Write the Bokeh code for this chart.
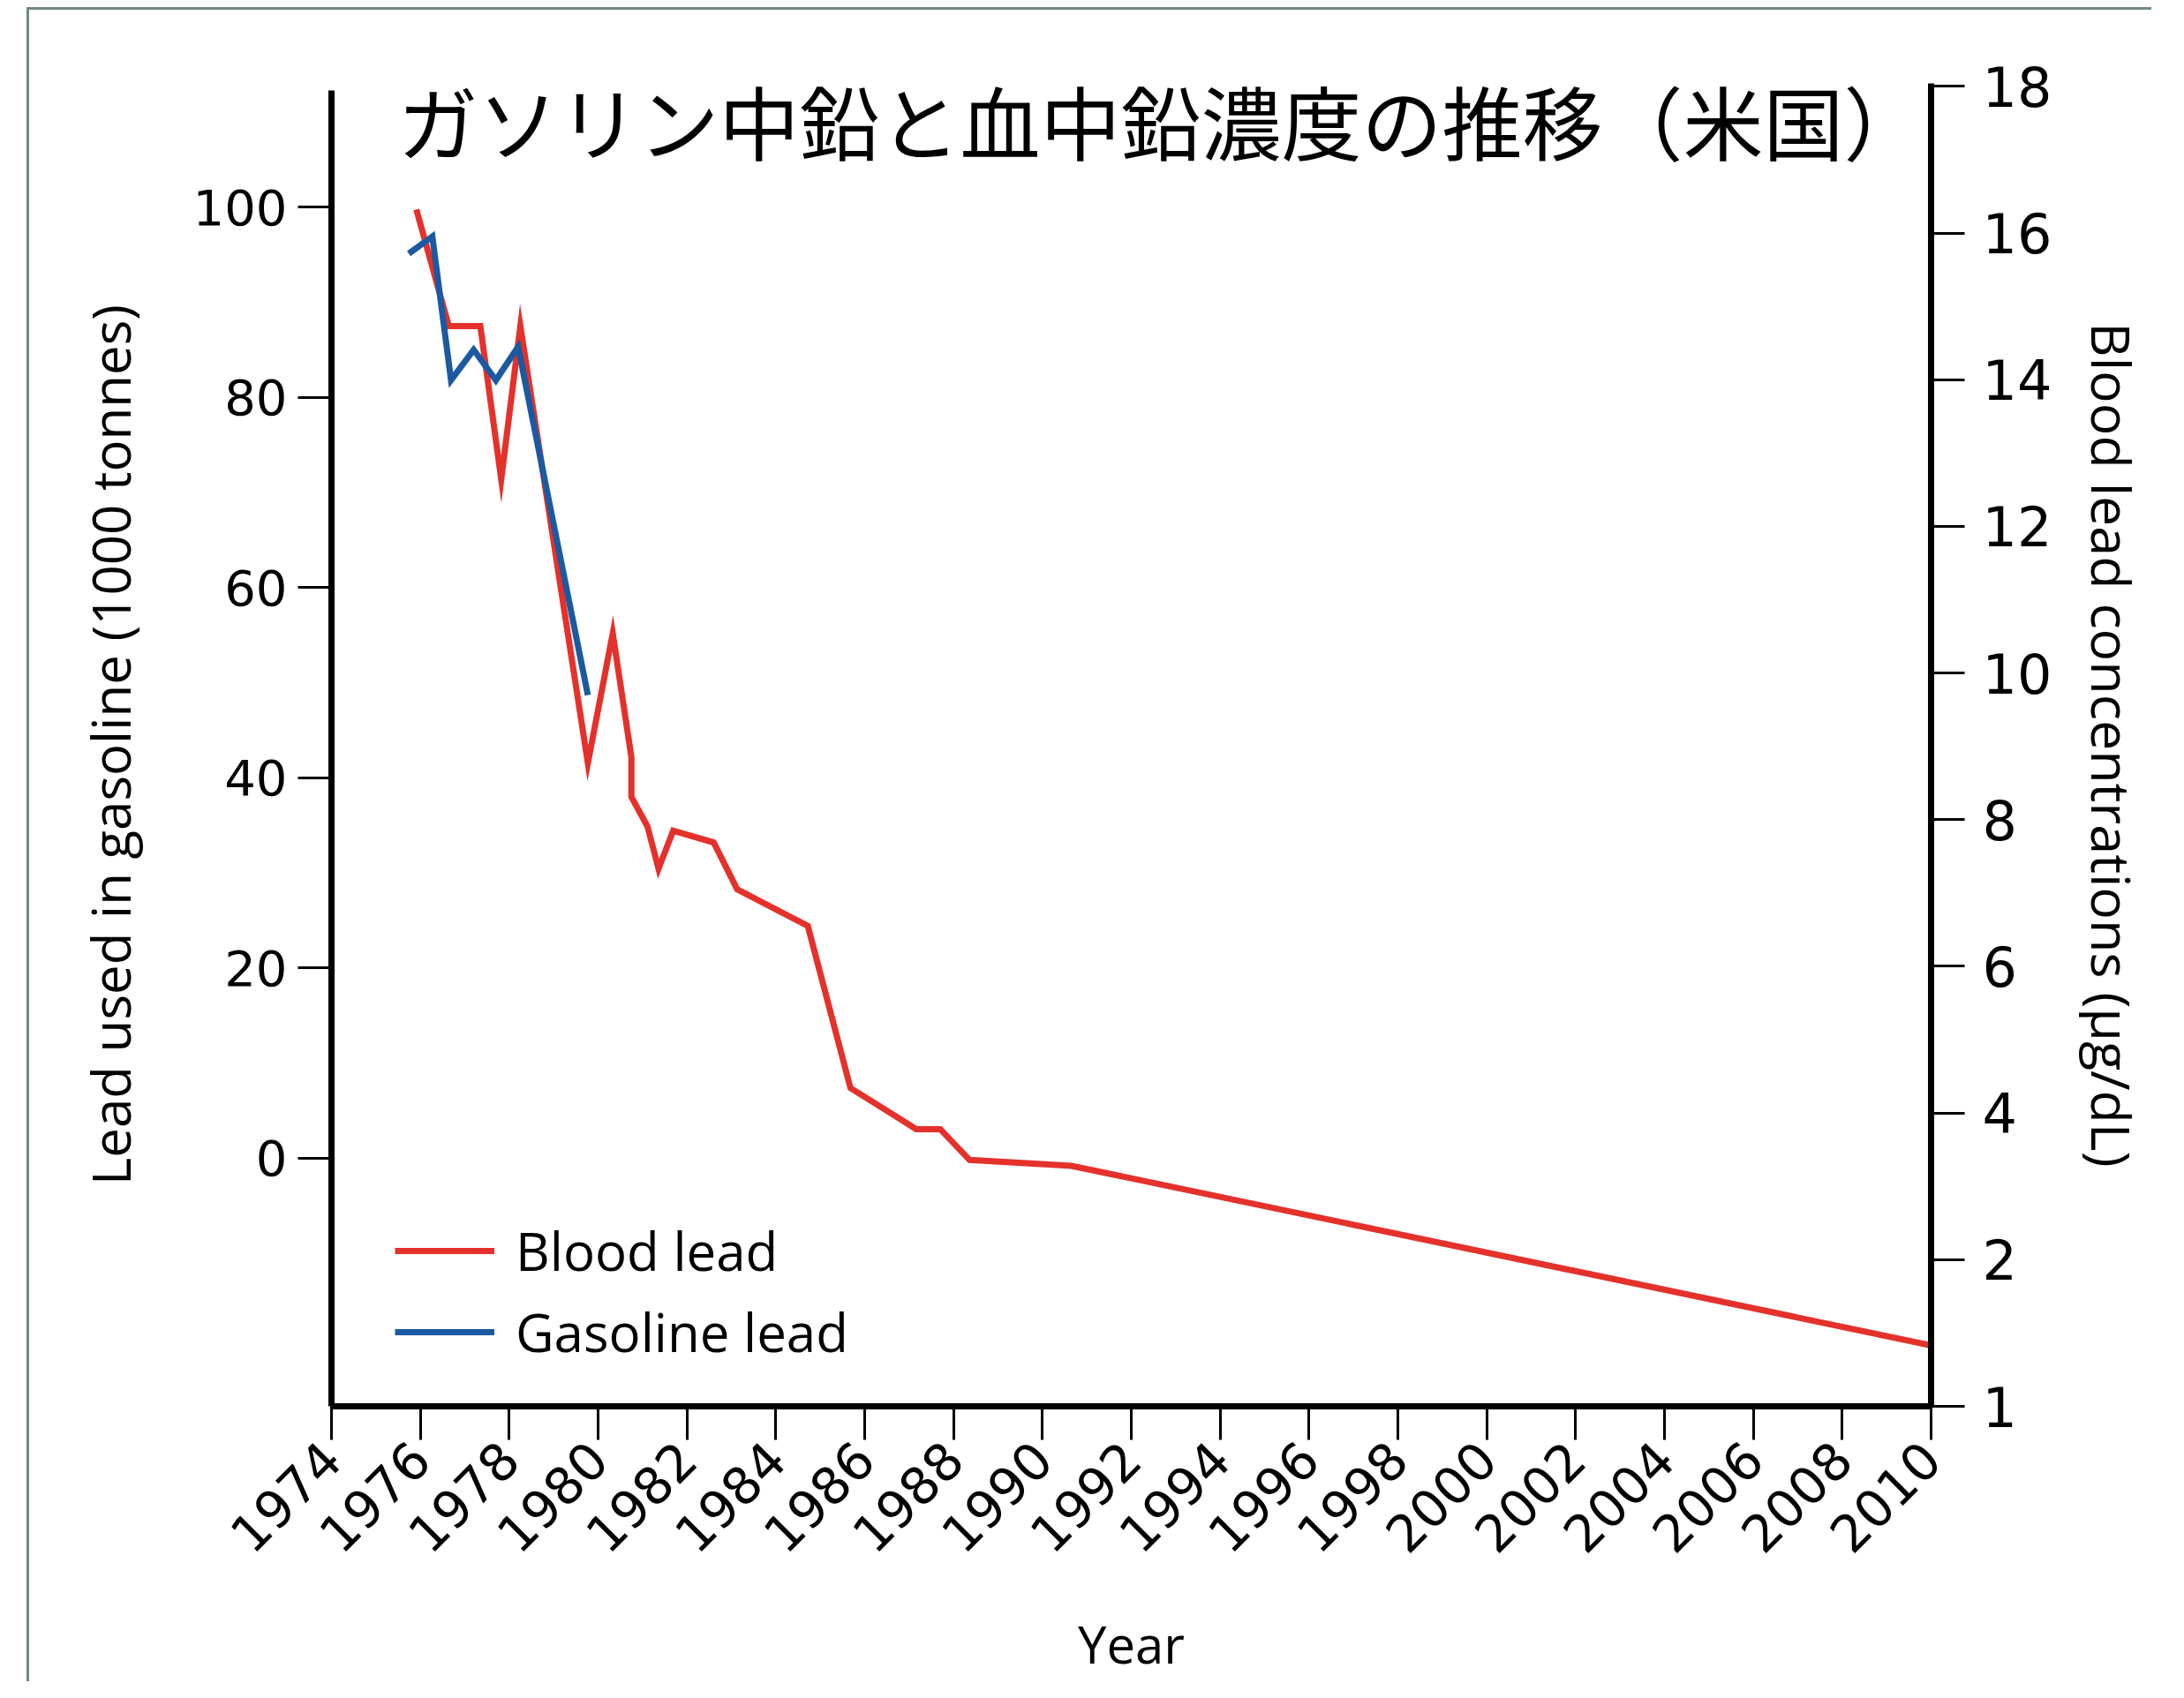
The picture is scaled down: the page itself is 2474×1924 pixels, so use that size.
import math
from bokeh.plotting import figure
from bokeh.models import (Range1d, LinearAxis, FixedTicker, Legend, LegendItem,
                          Label, InlineStyleSheet)
from bokeh.embed import file_html
from bokeh.resources import INLINE

# ---------------- data ----------------
title_text = "ガソリン中鉛と血中鉛濃度の推移（米国）"
x_ticks = list(range(1974, 2011, 2))
left_ticks = [0, 20, 40, 60, 80, 100]
right_ticks = [0, 2, 4, 6, 8, 10, 12, 14, 16, 18]
right_tick_labels = {0: "1"}

blood_year = [1975.91, 1976.64, 1977.35, 1977.82, 1978.25, 1979.77, 1980.33,
              1980.75, 1980.75, 1981.11, 1981.36, 1981.69, 1982.60, 1983.13,
              1984.72, 1985.68, 1987.16, 1987.70, 1988.36, 1990.65, 2010.0]
blood_lead = [16.32, 14.73, 14.73, 12.64, 14.73, 8.77, 10.54,
              8.85, 8.31, 7.91, 7.33, 7.85, 7.69, 7.05,
              6.55, 4.34, 3.78, 3.78, 3.36, 3.28, 0.83]

gas_year = [1975.74, 1976.27, 1976.69, 1977.20, 1977.70, 1978.20, 1979.77]
gas_lead = [95.1, 96.9, 81.8, 85.0, 81.8, 85.3, 48.7]

# ---------------- figure ----------------
sheet = InlineStyleSheet(css=":host { margin-left: 30px; margin-top: 8px; "
                             "border-left: 3px solid #6f8984; border-top: 3px solid #6f8984; }")

p = figure(frame_width=1812, frame_height=1499,
           min_border_left=342, min_border_top=83,
           min_border_right=250, min_border_bottom=250,
           x_range=Range1d(1974, 2010), y_range=Range1d(-26.07, 113.0),
           output_backend="svg", toolbar_location=None,
           stylesheets=[sheet])
p.extra_y_ranges = {"right": Range1d(0, 18.04)}
p.outline_line_color = None
p.xgrid.visible = False
p.ygrid.visible = False
p.background_fill_color = "white"
p.border_fill_color = "white"

TICK_FONT = "DejaVu Sans"
LABEL_FONT = "Open Sans"

def style_axis(ax, size, label_size):
    ax.axis_line_width = 7
    ax.axis_line_color = "black"
    ax.major_tick_line_width = 3
    ax.major_tick_line_color = "black"
    ax.major_tick_in = 0
    ax.major_tick_out = 38
    ax.minor_tick_line_color = None
    ax.major_label_text_font = TICK_FONT
    ax.major_label_text_font_size = size
    ax.major_label_text_color = "black"
    ax.axis_label_text_font = LABEL_FONT
    ax.axis_label_text_font_size = label_size
    ax.axis_label_text_font_style = "normal"
    ax.axis_label_text_color = "black"

# bottom axis
xa = p.xaxis[0]
xa.ticker = FixedTicker(ticks=x_ticks)
style_axis(xa, "58px", "58px")
xa.major_label_orientation = math.pi / 4
xa.major_label_standoff = 12
xa.axis_label = "Year"
xa.axis_label_standoff = 42

# left axis
ya = p.yaxis[0]
ya.ticker = FixedTicker(ticks=left_ticks)
style_axis(ya, "56px", "60px")
ya.bounds = (-26.07, 112.3)
ya.major_label_standoff = 12
ya.axis_label = "Lead used in gasoline (1000 tonnes)"
ya.axis_label_standoff = 50

# right axis
ra = LinearAxis(y_range_name="right")
ra.ticker = FixedTicker(ticks=right_ticks)
ra.major_label_overrides = right_tick_labels
style_axis(ra, "62px", "61px")
ra.major_label_standoff = 20
ra.axis_label = "Blood lead concentrations (µg/dL)"
ra.axis_label_standoff = 24
p.add_layout(ra, "right")

# lines
r_blood = p.line(blood_year, blood_lead, y_range_name="right",
                 line_color="#e5312b", line_width=7, line_join="miter")
r_gas = p.line(gas_year, gas_lead, line_color="#1b5aa2", line_width=7,
               line_join="miter")

legend = Legend(items=[LegendItem(label="Blood lead", renderers=[r_blood]),
                       LegendItem(label="Gasoline lead", renderers=[r_gas])],
                location=(72, 38), orientation="vertical",
                glyph_width=113, glyph_height=92, label_height=92,
                label_standoff=24, spacing=0, padding=0, margin=0,
                border_line_color=None, background_fill_alpha=0)
legend.label_text_font = LABEL_FONT
legend.label_text_font_size = "60px"
legend.label_text_color = "black"
p.add_layout(legend)

title = Label(x=1975.49, y=109.2, text=title_text,
              text_font="Noto Sans CJK JP", text_font_size="91px",
              text_baseline="middle", text_align="left", text_color="black")
p.add_layout(title)

open("out.html", "w").write(file_html(p, INLINE))
